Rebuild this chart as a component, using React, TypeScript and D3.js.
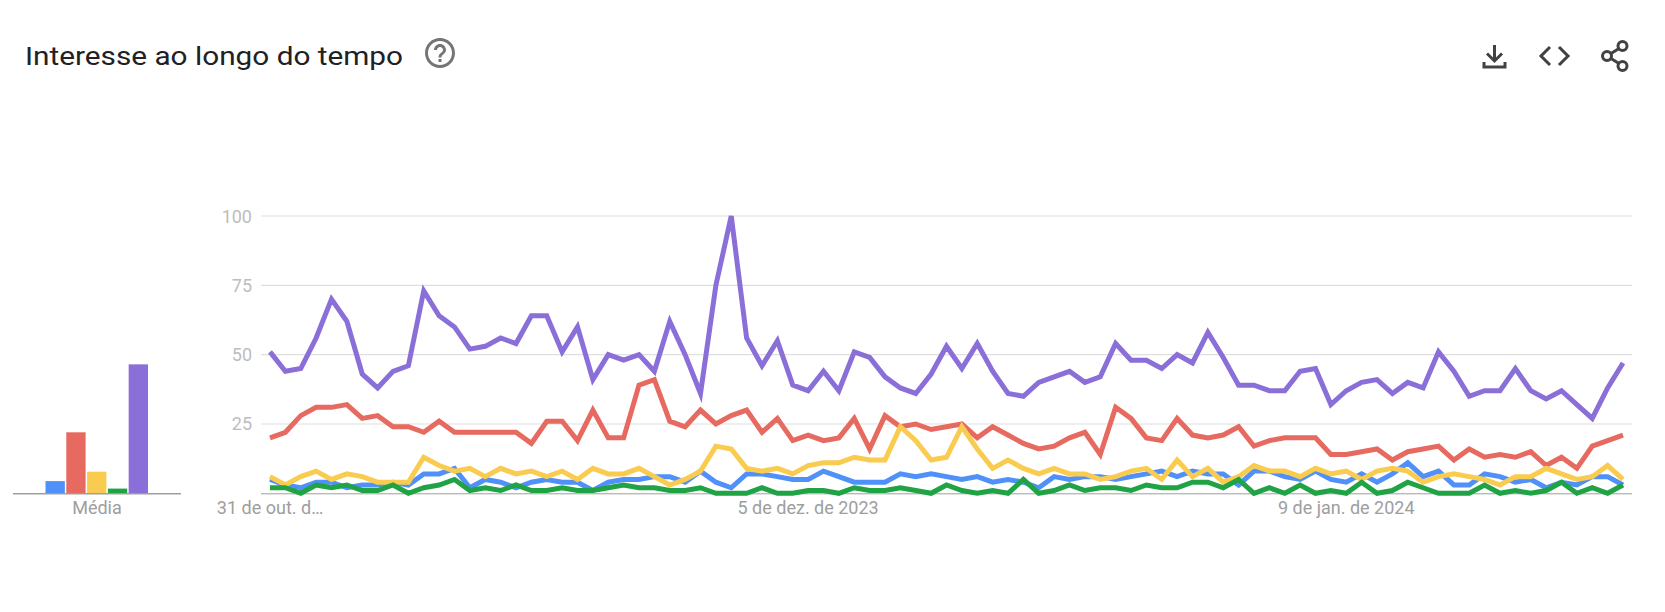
import React from "react";
import * as d3 from "d3";

const titleText = "Interesse ao longo do tempo";
const seriesNames = ["blue", "red", "yellow", "green", "purple"];
const seriesColors = ["#4f91f8", "#e66a60", "#f9cc50", "#1fa344", "#8a6fd8"];

const blueValues = [5,3,2,4,4,2,3,3,4,3,7,7,9,2,5,4,2,4,5,4,4,1,4,5,5,6,6,4,8,4,2,7,7,6,5,5,8,6,4,4,4,7,6,7,6,5,6,4,5,4,2,6,5,6,6,5,6,7,8,6,8,7,7,3,8,8,6,5,8,5,4,7,4,7,11,6,8,3,3,7,6,4,5,2,4,3,6,6,3];
const redValues = [20,22,28,31,31,32,27,28,24,24,22,26,22,22,22,22,22,18,26,26,19,30,20,20,39,41,26,24,30,25,28,30,22,27,19,21,19,20,27,16,28,24,25,23,24,25,20,24,21,18,16,17,20,22,14,31,27,20,19,27,21,20,21,24,17,19,20,20,20,14,14,15,16,12,15,16,17,12,16,13,14,13,15,10,13,9,17,19,21];
const yellowValues = [6,3,6,8,5,7,6,4,4,4,13,10,8,9,6,9,7,8,6,8,5,9,7,7,9,6,3,5,8,17,16,9,8,9,7,10,11,11,13,12,12,24,19,12,13,24,16,9,12,9,7,9,7,7,5,6,8,9,5,12,6,9,4,6,10,8,8,6,9,7,8,5,8,9,8,4,6,7,6,5,3,6,6,9,7,5,6,10,5];
const greenValues = [2,2,0,3,2,3,1,1,3,0,2,3,5,1,2,1,3,1,1,2,1,1,2,3,2,2,1,1,2,0,0,0,2,0,0,1,1,0,2,1,1,2,1,0,3,1,0,1,0,5,0,1,3,1,2,2,1,3,2,2,4,4,2,5,0,2,0,3,0,1,0,4,0,1,4,2,0,0,0,3,0,1,0,1,4,0,2,0,3];
const purpleValues = [51,44,45,56,70,62,43,38,44,46,73,64,60,52,53,56,54,64,64,51,60,41,50,48,50,44,62,50,36,75,100,56,46,55,39,37,44,37,51,49,42,38,36,43,53,45,54,44,36,35,40,42,44,40,42,54,48,48,45,50,47,58,49,39,39,37,37,44,45,32,37,40,41,36,40,38,51,44,35,37,37,45,37,34,37,32,27,38,47];
const allSeries = [blueValues, redValues, yellowValues, greenValues, purpleValues];

const averageValues = [4.4, 22, 7.8, 1.7, 46.5];
const yTicks = [25, 50, 75, 100];
const xTickIndex = [0, 35, 70];
const xTickLabels = ["31 de out. d…", "5 de dez. de 2023", "9 de jan. de 2024"];

const W = 1665, H = 612;
const font = "Roboto, sans-serif";

const x = d3.scaleLinear().domain([0, blueValues.length - 1]).range([270, 1623]);
const y = d3.scaleLinear().domain([0, 100]).range([493.3, 216]);
const barX = d3.scaleBand<string>().domain(seriesNames).range([45.5, 148]).paddingInner(0.07);
const lineGen = d3.line<number>().x((_, i) => x(i)).y((d) => y(d)).curve(d3.curveLinear);

const helpPath = "M11 18h2v-2h-2v2zm1-16C6.48 2 2 6.48 2 12s4.48 10 10 10 10-4.48 10-10S17.52 2 12 2zm0 18c-4.41 0-8-3.59-8-8s3.59-8 8-8 8 3.59 8 8-3.59 8-8 8zm0-14c-2.21 0-4 1.79-4 4h2c0-1.1.9-2 2-2s2 .9 2 2c0 2-3 1.75-3 5h2c0-2.25 3-2.5 3-5 0-2.21-1.79-4-4-4z";

export default function App() {
  return (
    <svg width={W} height={H} viewBox={`0 0 ${W} ${H}`} style={{ position: "absolute", left: 0, top: 0, background: "#fff" }}>
      <text x={25} y={65} fontFamily={font} fontSize={26.5} fill="#202124" textLength={378} lengthAdjust="spacingAndGlyphs">{titleText}</text>
      <path d={helpPath} transform="translate(422,35) scale(1.5)" fill="#757575" />

      <g fill="none" stroke="#424242" strokeWidth={3}>
        <path d="M1494.5 45V60M1487 53.5L1494.5 61L1502 53.5" />
        <path d="M1484 62V67H1505V62" />
        <path d="M1550 47L1541 56L1550 65M1559 47L1568 56L1559 65" />
        <path d="M1611 53.5L1619 48.5M1611 58.5L1619 63.5" />
        <circle cx={1607} cy={56} r={4.5} />
        <circle cx={1622.5} cy={46} r={4.5} />
        <circle cx={1622.5} cy={66} r={4.5} />
      </g>

      {seriesNames.map((name, i) => (
        <rect key={name} x={barX(name)} y={y(averageValues[i])} width={barX.bandwidth()} height={y(0) - y(averageValues[i])} fill={seriesColors[i]} />
      ))}
      <line x1={13} x2={181} y1={y(0) + 0.5} y2={y(0) + 0.5} stroke="#9e9e9e" strokeWidth={1.5} />
      <text x={97} y={514} textAnchor="middle" fontFamily={font} fontSize={18} fill="#9e9e9e">Média</text>

      {yTicks.map((t) => (
        <g key={t}>
          <line x1={261} x2={1632} y1={y(t)} y2={y(t)} stroke="#e0e0e0" strokeWidth={1.2} />
          <text x={252} y={y(t) + 6.5} textAnchor="end" fontFamily={font} fontSize={18} fill="#bdbdbd">{t}</text>
        </g>
      ))}
      <line x1={261} x2={1632} y1={y(0) + 0.5} y2={y(0) + 0.5} stroke="#9e9e9e" strokeWidth={1} />
      {xTickIndex.map((idx, i) => (
        <text key={idx} x={x(idx)} y={514} textAnchor="middle" fontFamily={font} fontSize={18} fill="#9e9e9e">{xTickLabels[i]}</text>
      ))}

      {allSeries.map((vals, i) => (
        <path key={seriesNames[i]} d={lineGen(vals) ?? ""} fill="none" stroke={seriesColors[i]} strokeWidth={5} strokeLinejoin="miter" />
      ))}
    </svg>
  );
}
